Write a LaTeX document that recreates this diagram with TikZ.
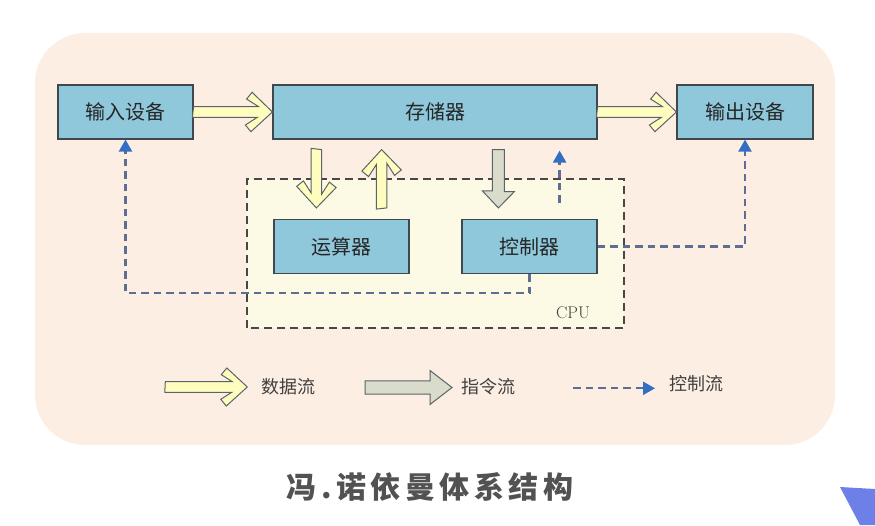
\documentclass[tikz,border=0pt]{standalone}
\usepackage{fontspec}
\newfontfamily\cjk{Noto Sans CJK SC}
\usetikzlibrary{calc,arrows.meta}

\definecolor{panelpeach}{RGB}{253,238,227}
\definecolor{cpuyellow}{RGB}{252,250,228}
\definecolor{boxblue}{RGB}{143,199,219}
\definecolor{boxline}{RGB}{62,72,78}
\definecolor{datayellow}{RGB}{255,253,190}
\definecolor{instrgrey}{RGB}{217,219,203}
\definecolor{ctrlline}{RGB}{92,110,145}
\definecolor{ctrlhead}{RGB}{50,110,195}
\definecolor{titlegrey}{RGB}{82,82,82}
\definecolor{cornerblue}{RGB}{108,128,232}

\tikzset{
  unitbox/.style={draw=boxline, fill=boxblue, line width=1.2pt, minimum height=54pt,
    inner sep=0pt, text=black!85, font=\cjk\fontsize{20}{24}\selectfont},
  dataflow/.style={draw=boxline!85, fill=datayellow, line width=1pt, line join=miter},
  instrflow/.style={draw=boxline!85, fill=instrgrey, line width=1pt, line join=miter},
  ctrlflow/.style={ctrlline, line width=2.3pt, dash pattern=on 7.5pt off 5pt,
    -{Triangle[length=12pt,width=13pt,color=ctrlhead]}},
  legendtext/.style={inner sep=0pt, font=\cjk\fontsize{18}{20}\selectfont, text=black!75}
}

\begin{document}
\begin{tikzpicture}[x=1pt,y=1pt]
  \useasboundingbox (0,0) rectangle (875,525);
  % background panel
  \fill[panelpeach, rounded corners=50pt] (35,80) rectangle (835,492);
  \fill[cornerblue] (840,38)--(875,36)--(875,0)--(860,0)--cycle;

  % cpu frame
  \filldraw[fill=cpuyellow, draw=black!72, line width=1.8pt, dash pattern=on 8pt off 5pt]
    (247,197) rectangle (624,346);
  \node[font=\fontsize{17}{20}\selectfont, text=black!75] (cpu) at (573,212) {CPU};

  % units
  \node[unitbox, minimum width=135pt] (in)  at (125.5,413) {输入设备};
  \node[unitbox, minimum width=324pt] (mem) at (435,413)   {存储器};
  \node[unitbox, minimum width=136pt] (out) at (745,413)   {输出设备};
  \node[unitbox, minimum width=135pt] (alu) at (341.5,278.5) {运算器};
  \node[unitbox, minimum width=135pt] (cu)  at (529.5,278.5) {控制器};

  % data flow
  \filldraw[dataflow] (in.east) ++(0,5.3) -- ++(65,0) -- ++(-12,7.7) -- ++(5.5,6.7) -- (mem.west)
    -- ++(-21.5,-19.7) -- ++(-5.5,6.7) -- ++(12,7.7) -- ++(-65,0) -- cycle;
  \filldraw[dataflow] (mem.east) ++(0,5.3) -- ++(65,0) -- ++(-12,7.7) -- ++(5.5,6.7) -- (out.west)
    -- ++(-21.5,-19.7) -- ++(-5.5,6.7) -- ++(12,7.7) -- ++(-65,0) -- cycle;

  \coordinate (downtop) at ($(mem.south -| alu.west)+(43,-10)$);
  \coordinate (downtip) at ($(alu.north west)+(43,11)$);
  \filldraw[dataflow] (downtop) ++(5.3,0) -- ++(0,-44.5) -- ++(7.7,12) -- ++(6.7,-5.5) -- (downtip)
    -- ++(-19.7,21.5) -- ++(6.7,5.5) -- ++(7.7,-12) -- ++(0,44.5) -- cycle;

  \coordinate (upfoot) at ($(alu.north east)+(-28,11)$);
  \coordinate (uptip) at ($(mem.south -| alu.east)+(-28,-10)$);
  \filldraw[dataflow] (upfoot) ++(5.3,0) -- ++(0,44.5) -- ++(7.7,-12) -- ++(6.7,5.5) -- (uptip)
    -- ++(-19.7,-21.5) -- ++(6.7,-5.5) -- ++(7.7,12) -- ++(0,-44.5) -- cycle;

  % instruction flow
  \coordinate (instrtop) at ($(mem.south -| cu.west)+(37,-10)$);
  \coordinate (instrtip) at ($(cu.north west)+(37,11)$);
  \filldraw[instrflow] (instrtop) ++(-6,0) -- ++(12,0) -- ++(0,-42) -- ++(10,0) -- (instrtip)
    -- ++(-16,17) -- ++(10,0) -- cycle;

  % control flow
  \coordinate (ctrlfoot) at ($(cu.north east)+(-38,16)$);
  \coordinate (ctrltip) at ($(mem.south -| cu.east)+(-38,-11)$);
  \draw[ctrlflow] (ctrlfoot) -- (ctrltip);
  \draw[ctrlflow] (cu.east) -| (out.south);
  \draw[ctrlflow] (cu.south) -- ++(0,-19) -| (in.south);

  % legend
  \node[legendtext] (legdata)  at (288,138.3) {数据流};
  \node[legendtext] (leginstr) at (488,138.3) {指令流};
  \node[legendtext] (legctrl)  at (696,141.7) {控制流};
  \coordinate (datatip) at (247.3,138);
  \filldraw[dataflow] (datatip) ++(-82,5.3) -- ++(67,0) -- ++(-11,7) -- ++(5.5,6.7) -- (datatip)
    -- ++(-21,-19) -- ++(-5.5,6.7) -- ++(11,7) -- ++(-67,0) -- cycle;
  \coordinate (instrlegtip) at (452,137.5);
  \filldraw[instrflow] (instrlegtip) ++(-87,6.7) -- ++(65,0) -- ++(0,10.3) -- (instrlegtip)
    -- ++(-22,-17) -- ++(0,10.3) -- ++(-65,0) -- cycle;
  \coordinate (ctrllegtip) at (655,136.7);
  \draw[ctrlflow] ($(ctrllegtip)+(-82,0)$) -- (ctrllegtip);

  % caption
  \node[font=\cjk\bfseries\fontsize{30}{34}\selectfont\addfontfeature{LetterSpace=15},
    text=titlegrey] (title) at (430,38.3) {冯.诺依曼体系结构};
\end{tikzpicture}
\end{document}
